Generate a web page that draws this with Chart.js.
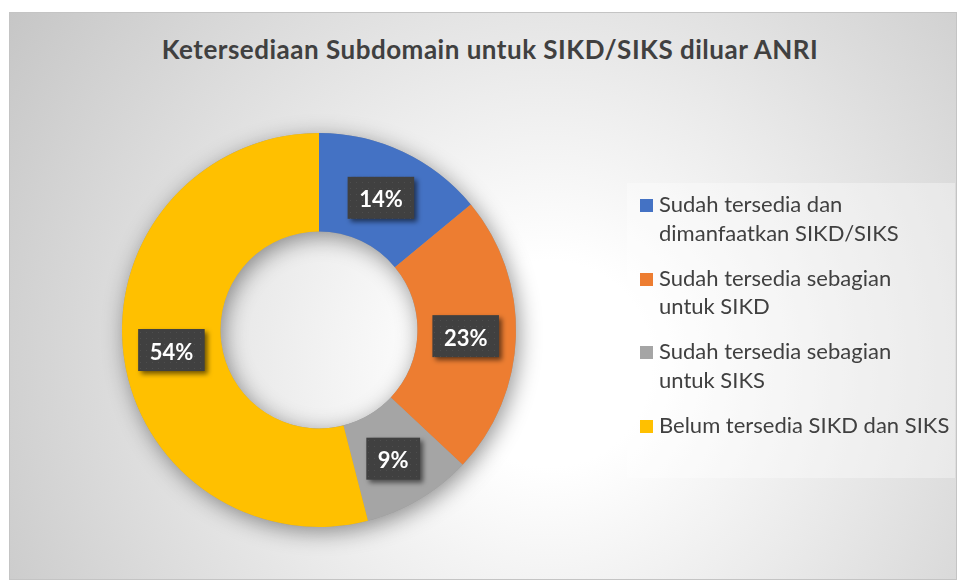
<!DOCTYPE html>
<html>
<head>
<meta charset="utf-8">
<script src="https://cdn.jsdelivr.net/npm/chart.js@4.4.1/dist/chart.umd.min.js"></script>
<style>
  body { margin: 0; width: 958px; height: 581px; background: #fff; position: relative; overflow: hidden; font-family: Lato, "Open Sans", sans-serif; }
  #frame {
    position: absolute; left: 9px; top: 12px; width: 948px; height: 568px;
    box-sizing: border-box; border: 1px solid #c4c4c4;
    background: radial-gradient(circle farthest-corner at 57% 62%, #ffffff 0%, #ffffff 16%, #c6c6c6 100%);
  }
  #title {
    position: absolute; left: 0; top: 36px; width: 980px; text-align: center;
    font-weight: bold; font-size: 26px; line-height: 26px; letter-spacing: 0.5px; color: #404040; white-space: nowrap;
  }
  #chart { position: absolute; left: 0; top: 0; }
  #legend {
    position: absolute; left: 627px; top: 183px; width: 328px; height: 295px;
    background: rgba(255,255,255,0.35); box-sizing: border-box; padding-top: 7px;
  }
  .item { position: relative; padding-left: 32px; margin-bottom: 16.7px; font-size: 22px; line-height: 28.5px; color: #404040; white-space: nowrap; }
  .item span { position: absolute; left: 13px; top: 9px; width: 13px; height: 13px; }
</style>
</head>
<body>
<div id="frame"></div>
<div id="title"></div>
<canvas id="chart" width="958" height="581"></canvas>
<div id="legend"></div>
<script>
// chart data
const chartTitle = 'Ketersediaan Subdomain untuk SIKD/SIKS diluar ANRI';
const categories = [
  ['Sudah tersedia dan', 'dimanfaatkan SIKD/SIKS'],
  ['Sudah tersedia sebagian', 'untuk SIKD'],
  ['Sudah tersedia sebagian', 'untuk SIKS'],
  ['Belum tersedia SIKD dan SIKS']
];
const values = [14, 23, 9, 54];
const colors = ['#4472C4', '#ED7D31', '#A5A5A5', '#FFC000'];

// title
document.getElementById('title').textContent = chartTitle;

// html legend
const legend = document.getElementById('legend');
categories.forEach((lines, i) => {
  const item = document.createElement('div');
  item.className = 'item';
  const box = document.createElement('span');
  box.style.background = colors[i];
  item.appendChild(box);
  lines.forEach((line, j) => {
    if (j > 0) item.appendChild(document.createElement('br'));
    item.appendChild(document.createTextNode(line));
  });
  legend.appendChild(item);
});

// soft shadow under the ring
const donutShadow = {
  id: 'donutShadow',
  beforeDatasetsDraw(chart) {
    const arc = chart.getDatasetMeta(0).data[0];
    const { x, y, outerRadius, innerRadius } = arc.getProps(['x', 'y', 'outerRadius', 'innerRadius'], true);
    const ctx = chart.ctx;
    ctx.save();
    ctx.shadowColor = 'rgba(0,0,0,0.42)';
    ctx.shadowBlur = 22;
    ctx.shadowOffsetX = 3;
    ctx.shadowOffsetY = 5;
    ctx.fillStyle = '#999';
    ctx.beginPath();
    ctx.arc(x, y, outerRadius, 0, Math.PI * 2);
    ctx.arc(x, y, innerRadius, 0, Math.PI * 2, true);
    ctx.fill();
    ctx.restore();
  }
};

// dark boxes with percentage
function dotPattern(ctx) {
  const c = document.createElement('canvas');
  c.width = 6; c.height = 6;
  const p = c.getContext('2d');
  p.fillStyle = '#404040';
  p.fillRect(0, 0, 6, 6);
  p.fillStyle = '#4e4e4e';
  p.fillRect(2, 2, 1, 1);
  return ctx.createPattern(c, 'repeat');
}

const valueLabels = {
  id: 'valueLabels',
  afterDatasetsDraw(chart) {
    const ctx = chart.ctx;
    const pattern = dotPattern(ctx);
    ctx.save();
    ctx.font = 'bold 22px Lato';
    chart.getDatasetMeta(0).data.forEach((arc, i) => {
      const p = arc.tooltipPosition();
      const text = values[i] + '%';
      const w = ctx.measureText(text).width + 23;
      const h = 42;
      const bx = p.x - 1 - w / 2;
      const by = p.y + 1.5 - h / 2;
      ctx.shadowColor = 'rgba(0,0,0,0.55)';
      ctx.shadowBlur = 5;
      ctx.shadowOffsetX = 3;
      ctx.shadowOffsetY = 3;
      ctx.fillStyle = pattern;
      ctx.fillRect(bx, by, w, h);
      ctx.shadowColor = 'transparent';
      ctx.fillStyle = '#ffffff';
      ctx.textAlign = 'center';
      ctx.textBaseline = 'alphabetic';
      ctx.fillText(text, bx + w / 2, by + h / 2 + 9.5);
    });
    ctx.restore();
  }
};

function drawChart() {
  new Chart(document.getElementById('chart'), {
    type: 'doughnut',
    data: {
      labels: categories.map(l => l.join(' ')),
      datasets: [{
        data: values,
        backgroundColor: colors,
        borderWidth: 0
      }]
    },
    options: {
      responsive: false,
      animation: false,
      cutout: '50%',
      layout: { padding: { left: 122, top: 133, right: 442, bottom: 54 } },
      plugins: {
        legend: { display: false },
        title: { display: false },
        tooltip: { enabled: false }
      }
    },
    plugins: [donutShadow, valueLabels]
  });
}

document.fonts.load('bold 22px Lato').then(drawChart, drawChart);
</script>
</body>
</html>
